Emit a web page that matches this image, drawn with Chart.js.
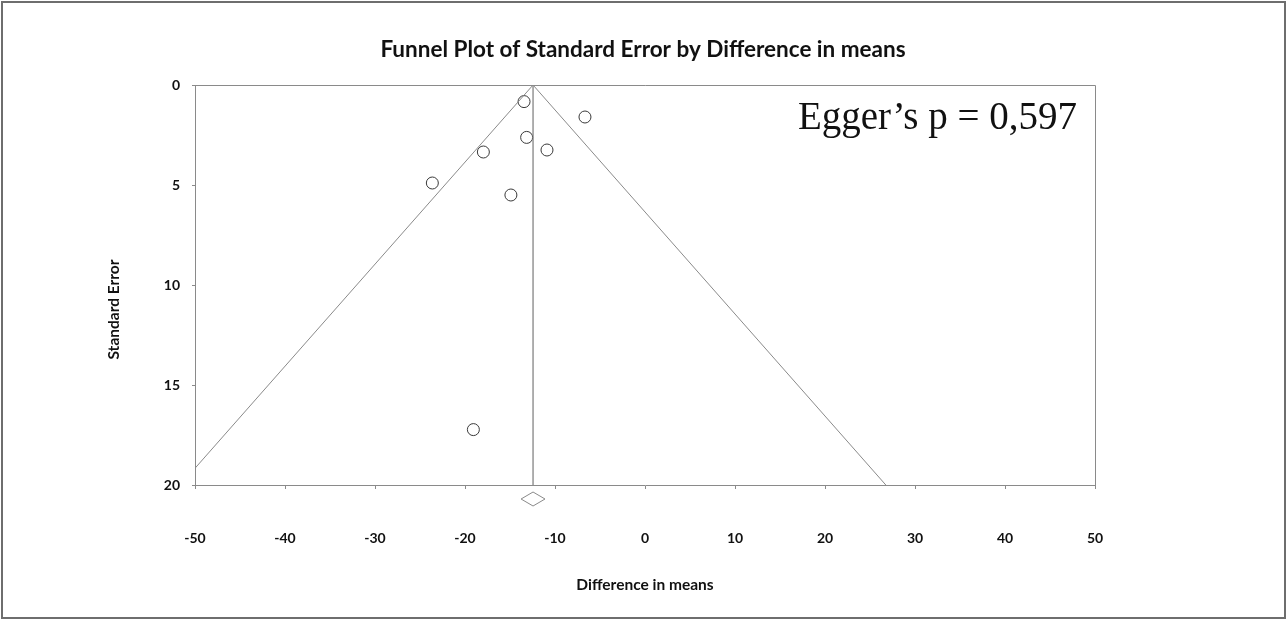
<!DOCTYPE html>
<html>
<head>
<meta charset="utf-8">
<script src="https://cdn.jsdelivr.net/npm/chart.js@4/dist/chart.umd.min.js"></script>
<style>
  html, body { margin: 0; padding: 0; background: #fff; }
  #wrap { width: 1286px; height: 619px; position: relative; }
</style>
</head>
<body>
<div id="wrap"><canvas id="c" width="1286" height="619"></canvas></div>
<script>
// ---- Data ----
const titleText = 'Funnel Plot of Standard Error by Difference in means';
const xAxisTitle = 'Difference in means';
const yAxisTitle = 'Standard Error';
const eggerText = 'Egger\u2019s p = 0,597';

const studyDiff = [-13.44, -6.67, -13.15, -17.96, -10.89, -23.63, -14.9, -19.07];
const studySE   = [0.83, 1.6, 2.62, 3.35, 3.25, 4.9, 5.5, 17.23];

const pooledMean = -12.44;   // summary difference in means
const pooledHalfCI = 1.33;   // half width of summary diamond
const zCrit = 1.96;
const seMax = 20;
const xMin = -50, xMax = 50, xStep = 10;
const yMin = 0, yMax = 20, yStep = 5;
const diamondSE = 20.7, diamondHalfH = 0.35;

// ---- derived datasets ----
const studyPoints = studyDiff.map((d, i) => ({ x: d, y: studySE[i] }));
const leftFunnel = [{ x: pooledMean, y: 0 }, { x: pooledMean - zCrit * seMax, y: seMax }];
const rightFunnel = [{ x: pooledMean, y: 0 }, { x: pooledMean + zCrit * seMax, y: seMax }];
const centerLine = [{ x: pooledMean, y: 0 }, { x: pooledMean, y: seMax }];
const diamond = [
  { x: pooledMean - pooledHalfCI, y: diamondSE },
  { x: pooledMean, y: diamondSE - diamondHalfH },
  { x: pooledMean + pooledHalfCI, y: diamondSE },
  { x: pooledMean, y: diamondSE + diamondHalfH },
  { x: pooledMean - pooledHalfCI, y: diamondSE }
];

const lblFont = 'Lato, "Open Sans", sans-serif';
const lineGray = '#8a8a8a';

const decor = {
  id: 'decor',
  beforeDraw(chart) {
    const ctx = chart.ctx;
    ctx.save();
    ctx.fillStyle = '#fff';
    ctx.fillRect(0, 0, chart.width, chart.height);
    ctx.strokeStyle = '#6e6e6e';
    ctx.lineWidth = 2;
    ctx.strokeRect(2, 2, 1283, 616);
    ctx.restore();
  },
  afterDraw(chart) {
    const ctx = chart.ctx;
    const a = chart.chartArea;
    ctx.save();
    // top & right frame of plot area
    ctx.strokeStyle = lineGray;
    ctx.lineWidth = 1;
    ctx.beginPath();
    ctx.moveTo(a.left, a.top + 0.5);
    ctx.lineTo(a.right + 0.5, a.top + 0.5);
    ctx.lineTo(a.right + 0.5, a.bottom);
    ctx.stroke();
    // Egger annotation
    ctx.fillStyle = '#111';
    ctx.font = '39px "Liberation Serif", "DejaVu Serif", serif';
    ctx.textAlign = 'right';
    ctx.textBaseline = 'alphabetic';
    ctx.fillText(eggerText, a.right - 18, a.top + 44);
    // y axis title, centred on the canvas height
    ctx.font = 'bold 15.5px ' + lblFont;
    ctx.textAlign = 'center';
    ctx.textBaseline = 'middle';
    ctx.translate(114, chart.height / 2);
    ctx.rotate(-Math.PI / 2);
    ctx.fillText(yAxisTitle, 0, 0);
    ctx.restore();
  }
};

new Chart(document.getElementById('c'), {
  type: 'scatter',
  data: {
    datasets: [
      { data: leftFunnel, showLine: true, borderColor: lineGray, borderWidth: 1, pointRadius: 0 },
      { data: rightFunnel, showLine: true, borderColor: lineGray, borderWidth: 1, pointRadius: 0 },
      { data: centerLine, showLine: true, borderColor: '#7a7a7a', borderWidth: 1.2, pointRadius: 0 },
      { data: diamond, showLine: true, borderColor: lineGray, borderWidth: 1, pointRadius: 0, clip: false, tension: 0 },
      { data: studyPoints, pointStyle: 'circle', pointRadius: 6, borderColor: '#3a3a3a', borderWidth: 1, backgroundColor: 'rgba(255,255,255,0)' }
    ]
  },
  options: {
    responsive: false,
    animation: false,
    events: [],
    layout: { padding: 0 },
    plugins: {
      legend: { display: false },
      tooltip: { enabled: false },
      title: {
        display: true,
        text: titleText,
        color: '#111',
        font: { family: lblFont, size: 22.5, weight: 'bold' },
        padding: { top: 36.5, bottom: 21.5 }
      }
    },
    scales: {
      x: {
        type: 'linear',
        position: 'bottom',
        min: xMin, max: xMax,
        afterFit(s) { s.height = 134; },
        ticks: { stepSize: xStep, color: '#111', font: { family: lblFont, size: 14, weight: 'bold' }, padding: 41, maxRotation: 0 },
        grid: { drawOnChartArea: false, tickLength: 4, color: lineGray },
        border: { color: lineGray, width: 1 },
        title: { display: true, text: xAxisTitle, color: '#111', font: { family: lblFont, size: 15.5, weight: 'bold' }, padding: { top: 0, bottom: 24.7 } }
      },
      y: {
        type: 'linear',
        position: 'left',
        reverse: true,
        min: yMin, max: yMax,
        afterFit(s) { s.width = 195; },
        ticks: { stepSize: yStep, color: '#111', font: { family: lblFont, size: 14, weight: 'bold' }, padding: 12 },
        grid: { drawOnChartArea: false, tickLength: 3, color: lineGray },
        border: { color: lineGray, width: 1 }
      },
      rightSpace: {
        type: 'linear',
        position: 'right',
        display: true,
        afterFit(s) { s.width = 191; },
        ticks: { display: false },
        grid: { display: false, drawTicks: false },
        border: { display: false }
      }
    }
  },
  plugins: [decor]
});
</script>
</body>
</html>
